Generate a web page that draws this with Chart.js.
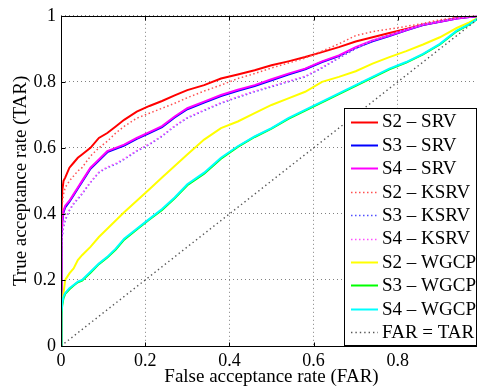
<!DOCTYPE html>
<html><head><meta charset="utf-8">
<script src="https://cdn.jsdelivr.net/npm/chart.js@4/dist/chart.umd.min.js"></script>
<style>html,body{margin:0;padding:0;background:#fff;overflow:hidden;width:477px;height:387px}canvas{display:block}</style>
</head><body>
<canvas id="c" width="500" height="387"></canvas>
<script>
// False acceptance rate sample points (shared by all ROC curves)
const far = [0, 0.001, 0.003, 0.006, 0.01, 0.02, 0.03, 0.04, 0.05, 0.07, 0.09, 0.11, 0.13, 0.15, 0.18, 0.21, 0.24, 0.27, 0.30, 0.34, 0.38, 0.42, 0.46, 0.50, 0.54, 0.58, 0.62, 0.66, 0.70, 0.74, 0.78, 0.82, 0.86, 0.90, 0.94, 0.97, 1.0];

// True acceptance rate per series
const s2Srv   = [0, 0.40, 0.47, 0.50, 0.51, 0.54, 0.555, 0.57, 0.58, 0.60, 0.63, 0.645, 0.665, 0.685, 0.71, 0.727, 0.742, 0.759, 0.775, 0.79, 0.81, 0.822, 0.835, 0.85, 0.862, 0.875, 0.89, 0.905, 0.922, 0.935, 0.948, 0.96, 0.973, 0.983, 0.993, 0.997, 1.0];
const s3Srv   = [0, 0.32, 0.375, 0.405, 0.42, 0.437, 0.457, 0.477, 0.497, 0.537, 0.562, 0.587, 0.597, 0.607, 0.627, 0.645, 0.663, 0.692, 0.717, 0.737, 0.757, 0.773, 0.787, 0.805, 0.822, 0.838, 0.86, 0.878, 0.903, 0.923, 0.939, 0.956, 0.972, 0.982, 0.992, 0.996, 1.0];
const s4Srv   = [0, 0.33, 0.38, 0.41, 0.425, 0.44, 0.46, 0.48, 0.50, 0.54, 0.565, 0.59, 0.60, 0.61, 0.63, 0.648, 0.666, 0.695, 0.72, 0.74, 0.76, 0.776, 0.79, 0.808, 0.825, 0.84, 0.862, 0.88, 0.905, 0.925, 0.94, 0.957, 0.973, 0.982, 0.992, 0.996, 1.0];
const s2Ksrv  = [0, 0.35, 0.43, 0.46, 0.48, 0.50, 0.515, 0.53, 0.54, 0.575, 0.60, 0.62, 0.645, 0.665, 0.69, 0.705, 0.72, 0.735, 0.752, 0.772, 0.79, 0.81, 0.825, 0.842, 0.857, 0.872, 0.893, 0.915, 0.94, 0.952, 0.96, 0.968, 0.977, 0.988, 0.995, 0.998, 1.0];
const s3Ksrv  = [0, 0.28, 0.33, 0.36, 0.38, 0.41, 0.43, 0.445, 0.46, 0.495, 0.525, 0.54, 0.55, 0.565, 0.59, 0.61, 0.635, 0.665, 0.69, 0.713, 0.735, 0.753, 0.77, 0.785, 0.80, 0.815, 0.842, 0.872, 0.90, 0.925, 0.942, 0.958, 0.973, 0.983, 0.993, 0.997, 1.0];
const s4Ksrv  = [0, 0.29, 0.335, 0.365, 0.385, 0.413, 0.433, 0.448, 0.462, 0.497, 0.527, 0.542, 0.553, 0.567, 0.592, 0.612, 0.637, 0.667, 0.692, 0.715, 0.737, 0.755, 0.772, 0.787, 0.802, 0.817, 0.844, 0.874, 0.902, 0.926, 0.943, 0.959, 0.974, 0.984, 0.993, 0.997, 1.0];
const s2Wgcp  = [0, 0.10, 0.13, 0.16, 0.20, 0.22, 0.235, 0.26, 0.275, 0.30, 0.33, 0.355, 0.38, 0.405, 0.44, 0.475, 0.51, 0.545, 0.58, 0.625, 0.66, 0.68, 0.705, 0.73, 0.75, 0.77, 0.80, 0.815, 0.832, 0.855, 0.875, 0.893, 0.913, 0.935, 0.963, 0.98, 1.0];
const s3Wgcp  = [0, 0.095, 0.125, 0.145, 0.158, 0.172, 0.183, 0.193, 0.198, 0.222, 0.248, 0.268, 0.292, 0.322, 0.353, 0.383, 0.412, 0.447, 0.487, 0.522, 0.567, 0.603, 0.633, 0.658, 0.688, 0.713, 0.738, 0.763, 0.788, 0.813, 0.838, 0.858, 0.883, 0.913, 0.953, 0.974, 1.0];
const s4Wgcp  = [0, 0.10, 0.13, 0.15, 0.16, 0.175, 0.185, 0.195, 0.20, 0.225, 0.25, 0.27, 0.295, 0.325, 0.355, 0.385, 0.415, 0.45, 0.49, 0.525, 0.57, 0.605, 0.635, 0.66, 0.69, 0.715, 0.74, 0.765, 0.79, 0.815, 0.84, 0.86, 0.885, 0.915, 0.955, 0.975, 1.0];
const chanceFar = [0, 1];
const chanceTar = [0, 1];

const seriesLabels = ['S2 \u2013 SRV', 'S3 \u2013 SRV', 'S4 \u2013 SRV', 'S2 \u2013 KSRV', 'S3 \u2013 KSRV', 'S4 \u2013 KSRV', 'S2 \u2013 WGCP', 'S3 \u2013 WGCP', 'S4 \u2013 WGCP', 'FAR = TAR'];
const tickValues = [0, 0.2, 0.4, 0.6, 0.8, 1];
const tickLabels = ['0', '0.2', '0.4', '0.6', '0.8', '1'];
const xTitle = 'False acceptance rate (FAR)';
const yTitle = 'True acceptance rate (TAR)';

// styles
const styles = [
  {color: '#ff0000', width: 2, dash: []},
  {color: '#0000ff', width: 2, dash: []},
  {color: '#ff00ff', width: 2, dash: []},
  {color: '#ff5050', width: 1.5, dash: [1.5, 2.5]},
  {color: '#5050ff', width: 1.5, dash: [1.5, 2.5]},
  {color: '#ff50ff', width: 1.5, dash: [1.5, 2.5]},
  {color: '#ffff00', width: 2, dash: []},
  {color: '#00ff00', width: 2, dash: []},
  {color: '#00ffff', width: 2, dash: []},
  {color: '#555555', width: 1.4, dash: [1.4, 3]}
];

const pairs = (xs, ys) => xs.map((v, i) => ({x: v, y: ys[i]}));
const seriesData = [
  pairs(far, s2Srv), pairs(far, s3Srv), pairs(far, s4Srv),
  pairs(far, s2Ksrv), pairs(far, s3Ksrv), pairs(far, s4Ksrv),
  pairs(far, s2Wgcp), pairs(far, s3Wgcp), pairs(far, s4Wgcp),
  pairs(chanceFar, chanceTar)
];

const FONT = "'Liberation Serif', 'Times New Roman', serif";
Chart.defaults.font.family = FONT;
Chart.defaults.color = '#000';

const datasets = seriesData.map((d, i) => ({
  label: seriesLabels[i],
  data: d,
  borderColor: styles[i].color,
  backgroundColor: styles[i].color,
  borderWidth: styles[i].width,
  borderDash: styles[i].dash,
  pointRadius: 0,
  tension: 0,
  fill: false,
  order: seriesData.length - i
}));

const framePlugin = {
  id: 'frame',
  afterDatasetsDraw(chart) {
    const {ctx, chartArea: a, scales: {x, y}} = chart;
    const L = Math.round(a.left) + 0.5, T = Math.round(a.top) + 0.5;
    const R = Math.round(a.right) + 0.5, B = Math.round(a.bottom) + 0.5;
    ctx.save();
    ctx.setLineDash([]);
    ctx.strokeStyle = '#000';
    ctx.lineWidth = 1;
    ctx.beginPath();
    ctx.moveTo(L, T); ctx.lineTo(R, T); ctx.lineTo(R, B); ctx.lineTo(L, B); ctx.closePath();
    ctx.stroke();
    // inward tick marks
    ctx.beginPath();
    tickValues.forEach(v => {
      const px = Math.round(x.getPixelForValue(v)) + 0.5;
      ctx.moveTo(px, B); ctx.lineTo(px, B - 4);
      ctx.moveTo(px, T); ctx.lineTo(px, T + 4);
      const py = Math.round(y.getPixelForValue(v)) + 0.5;
      ctx.moveTo(L, py); ctx.lineTo(L + 4, py);
      ctx.moveTo(R, py); ctx.lineTo(R - 4, py);
    });
    ctx.stroke();
    // legend box
    const bx = 344.5, by = 108.5, bw = 132, bh = 237;
    ctx.fillStyle = '#fff';
    ctx.fillRect(bx, by, bw, bh);
    ctx.strokeRect(bx, by, bw, bh);
    ctx.font = '19px ' + FONT;
    ctx.textBaseline = 'middle';
    ctx.textAlign = 'left';
    chart.data.datasets.forEach((ds, i) => {
      const cy = 121.5 + i * 23.4;
      ctx.save();
      ctx.strokeStyle = ds.borderColor;
      ctx.lineWidth = ds.borderWidth;
      ctx.setLineDash(ds.borderDash);
      ctx.beginPath();
      ctx.moveTo(351, Math.round(cy) + 0.5);
      ctx.lineTo(378, Math.round(cy) + 0.5);
      ctx.stroke();
      ctx.restore();
      ctx.fillStyle = '#000';
      ctx.fillText(ds.label, 382, cy + 1);
    });
    ctx.restore();
  }
};

new Chart(document.getElementById('c'), {
  type: 'line',
  data: {datasets},
  options: {
    responsive: false,
    animation: false,
    devicePixelRatio: 1,
    layout: {padding: {top: 14, right: 18, left: 0, bottom: 0}},
    plugins: {legend: {display: false}, tooltip: {enabled: false}},
    scales: {
      x: {
        type: 'linear', min: 0, max: 1,
        afterBuildTicks: s => { s.ticks = tickValues.map(v => ({value: v})); },
        afterFit: s => { s.height = 41; },
        ticks: {callback: (v, i) => tickLabels[i], font: {size: 18}, padding: 4, maxRotation: 0, color: '#000'},
        grid: {color: '#808080', lineWidth: 1, drawTicks: false},
        border: {display: false, dash: [1, 3]},
        title: {display: true, text: xTitle, font: {size: 19, lineHeight: 1}, padding: {top: 0, bottom: 0}, color: '#000'}
      },
      y: {
        type: 'linear', min: 0, max: 1,
        afterBuildTicks: s => { s.ticks = tickValues.map(v => ({value: v})); },
        afterFit: s => { s.width = 61; },
        ticks: {callback: (v, i) => tickLabels[i], font: {size: 18}, padding: 5, color: '#000'},
        grid: {color: '#808080', lineWidth: 1, drawTicks: false},
        border: {display: false, dash: [1, 3]},
        title: {display: true, text: yTitle, font: {size: 19, lineHeight: 1}, padding: {top: 12, bottom: 0}, color: '#000'}
      }
    }
  },
  plugins: [framePlugin]
});
</script>
</body></html>
